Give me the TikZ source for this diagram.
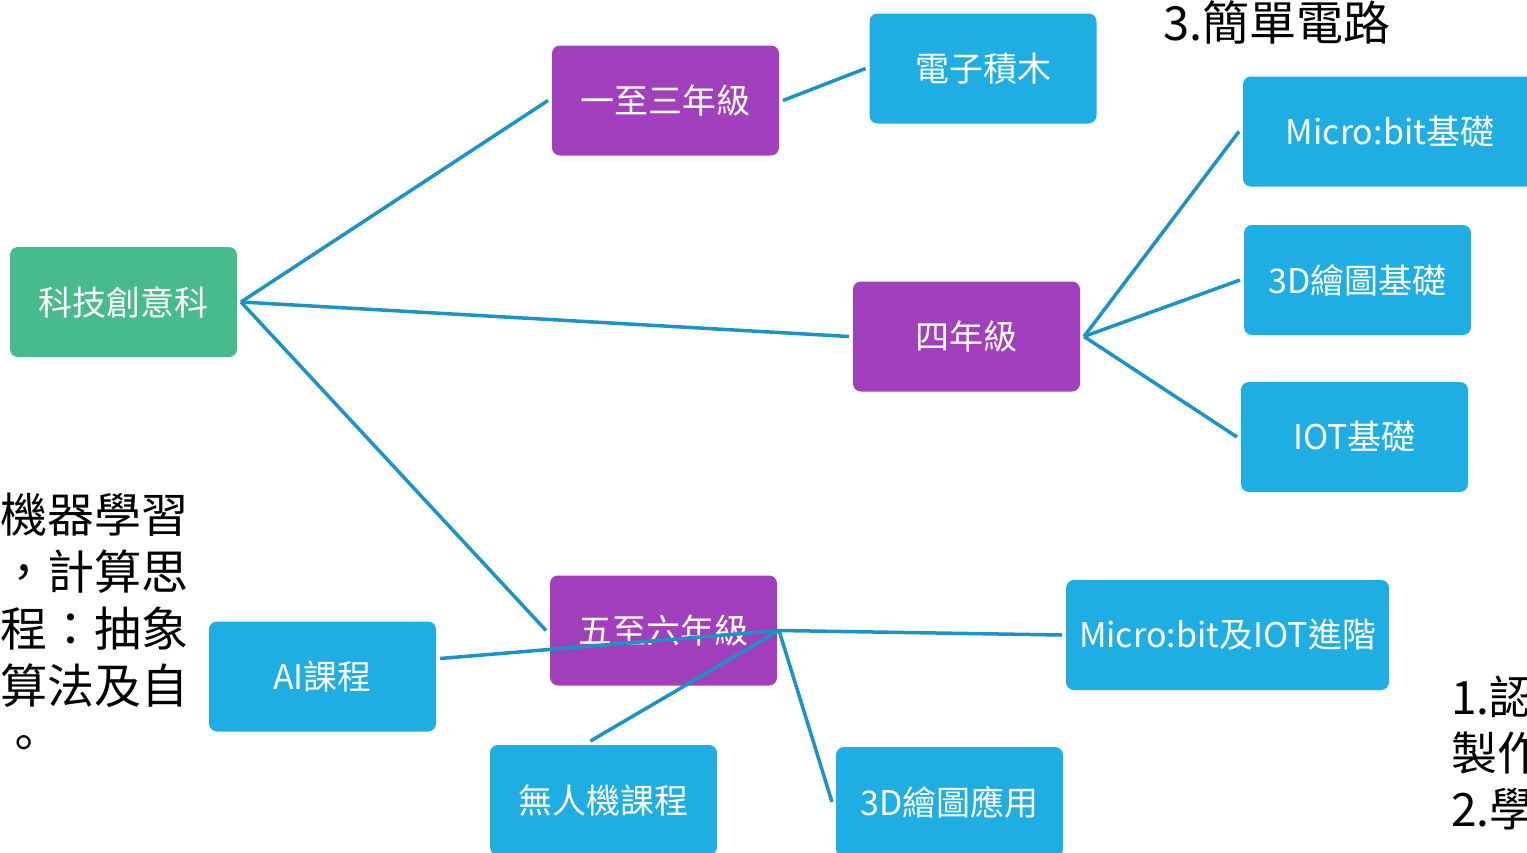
\documentclass[tikz,border=0pt]{standalone}
\usepackage{fontspec}
\setmainfont{Noto Sans CJK TC}
\definecolor{rootgreen}{HTML}{48BB8E}
\definecolor{gradepurple}{HTML}{A23FBD}
\definecolor{itemblue}{HTML}{1FAEE3}
\definecolor{linkblue}{HTML}{1B93C6}
\tikzset{
    box/.style={rounded corners=8pt, minimum width=227pt, minimum height=110pt,
        inner sep=0pt, outer sep=4pt, text=white, font=\fontsize{34}{40}\selectfont},
    root/.style={box, fill=rootgreen},
    grade/.style={box, fill=gradepurple},
    item/.style={box, fill=itemblue},
    link/.style={linkblue, line width=3.5pt},
    note/.style={black, inner sep=0pt, align=left, font=\fontsize{47}{57}\selectfont},
}
\begin{document}
\begin{tikzpicture}[x=1pt, y=-1pt]
    \useasboundingbox (0, 0) rectangle (1527, 852);
    \clip (0, 0) rectangle (1527, 852);

    % boxes
    \node [root]  (tech)    at ( 123.5, 302  ) {科技創意科};
    \node [grade] (g13)     at ( 665.5, 100.5) {一至三年級};
    \node [grade] (g4)      at ( 966.5, 336.5) {四年級};
    \node [grade] (g56)     at ( 663.5, 630.5) {五至六年級};
    \node [item]  (blocks)  at ( 983  ,  68.5) {電子積木};
    \node [item, minimum width=294pt] (mbbasic) at (1390, 131.5) {Micro:bit基礎};
    \node [item]  (draw3d)  at (1357.5, 280  ) {3D繪圖基礎};
    \node [item]  (iotbasic) at (1354.5, 437 ) {IOT基礎};
    \node [item, minimum width=323pt] (mbadv) at (1227.5, 635) {Micro:bit及IOT進階};
    \node [item]  (ai)      at ( 322.5, 676.5) {AI課程};
    \node [item]  (drone)   at ( 603.5, 800  ) {無人機課程};
    \node [item]  (app3d)   at ( 949.5, 802  ) {3D繪圖應用};

    % links
    \draw [link] (tech.east) -- (g13.west);
    \draw [link] (tech.east) -- (g4.west);
    \draw [link] (tech.east) -- (g56.west);
    \draw [link] (g13.east) -- (blocks.west);
    \draw [link] (g4.east) -- (mbbasic.west);
    \draw [link] (g4.east) -- (draw3d.west);
    \draw [link] (g4.east) -- (iotbasic.west);
    \coordinate (hub) at ([xshift=-2pt]g56.east);
    \draw [link] (hub) -- (mbadv.west);
    \draw [link] (hub) -- ([yshift=18pt]ai.east);
    \draw [link] (hub) -- ([xshift=-13pt]drone.north);
    \draw [link] (hub) -- (app3d.west);

    % side texts
    \node [note, anchor=west] (circuit) at (1163, 22) {3.簡單電路};
    \node [note, anchor=north west] (mlnote) at (0, 493)
        {機器學習\\，計算思\\程：抽象\\算法及自\\。};
    \node [note, anchor=north west, font=\fontsize{46}{56}\selectfont] (aimnote)
        at (1451, 676) {1.認識\\製作\\2.學習};
\end{tikzpicture}
\end{document}
